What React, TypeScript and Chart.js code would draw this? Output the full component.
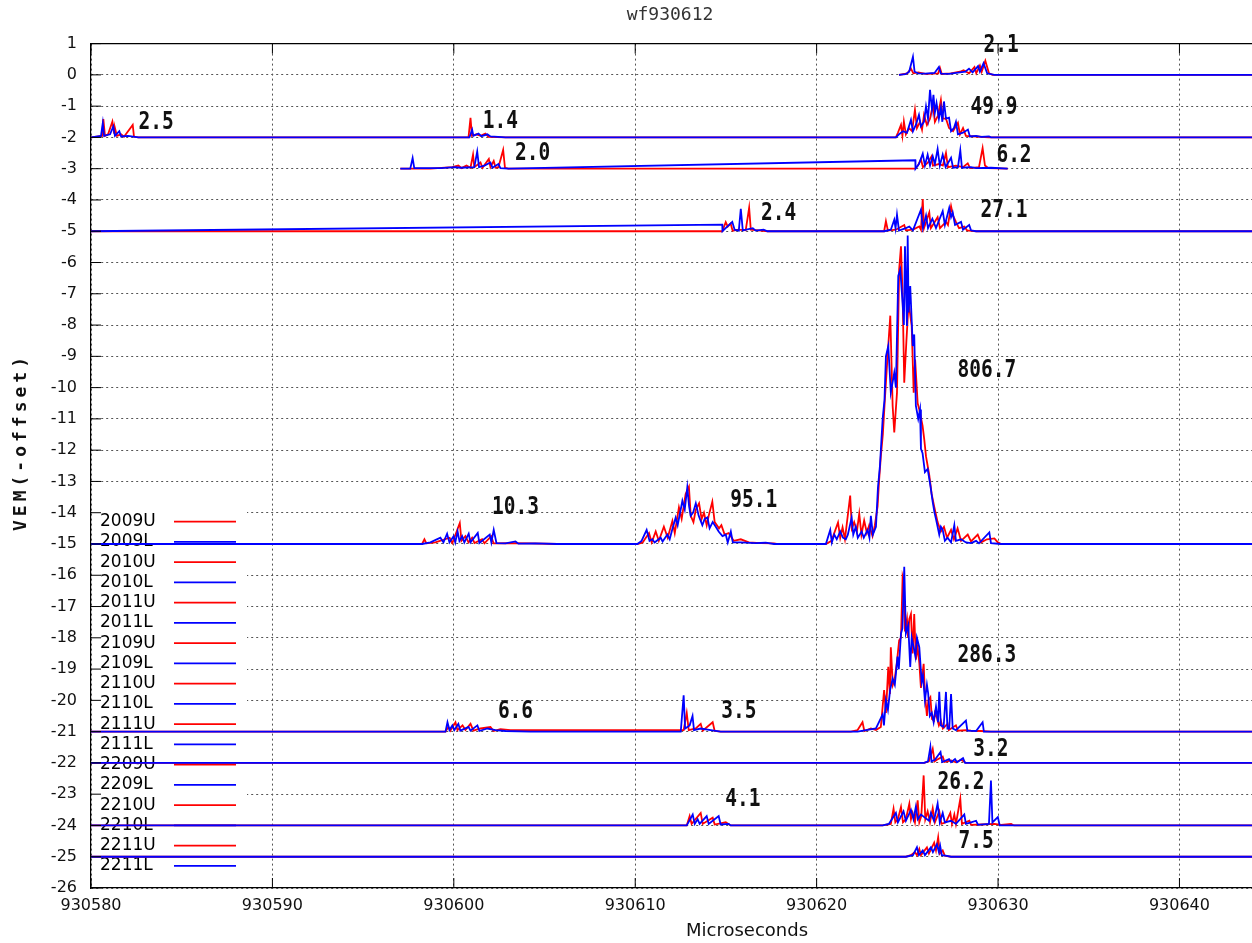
import React, { useEffect, useRef } from 'react';
import { Chart, registerables } from 'chart.js';

Chart.register(...registerables);

// ---------- text ----------
const TITLE = 'wf930612';
const X_TITLE = 'Microseconds';
const Y_TITLE = 'VEM(-offset)';

// ---------- axes ----------
const T0 = 930580; // time origin, microseconds
const X_MIN = 930580;
const X_MAX = 930644;
const X_STEP = 10;
const Y_MIN = -26;
const Y_MAX = 1;
const Y_STEP = 1;

// ---------- channels ----------
const CHANNELS = ['2009U', '2009L', '2010U', '2010L', '2011U', '2011L', '2109U', '2109L', '2110U', '2110L', '2111U', '2111L', '2209U', '2209L', '2210U', '2210L', '2211U', '2211L'];
const OFFSETS = [0, 0, -2, -2, -3, -3, -5, -5, -15, -15, -21, -21, -22, -22, -24, -24, -25, -25];

// ---------- traces: [microseconds after T0, VEM above the channel offset] ----------
const TRACE_2009U = [[44.54,0],[45.0,0.05],[45.2,0.2],[45.33,0.05],[45.6,0.08],[46.0,0.03],[46.7,0.05],[46.8,0.22],[46.9,0.03],[47.4,0.05],[47.9,0.1],[48.1,0.15],[48.4,0.05],[48.7,0.25],[48.8,0.05],[49.0,0.3],[49.1,0.1],[49.3,0.45],[49.5,0.05],[49.7,0],[64,0]];
const TRACE_2009L = [[44.54,0],[44.9,0.02],[45.1,0.1],[45.31,0.58],[45.4,0.1],[45.6,0.05],[46.0,0.04],[46.5,0.06],[46.74,0.25],[46.85,0.04],[47.3,0.03],[47.9,0.08],[48.2,0.1],[48.4,0.2],[48.6,0.08],[48.9,0.28],[49.0,0.1],[49.2,0.37],[49.4,0.05],[49.8,0],[64,0]];
const TRACE_2010U = [[0,0],[0.61,0.05],[0.68,0.59],[0.77,0.05],[0.94,0.1],[1.18,0.51],[1.27,0.15],[1.32,0.3],[1.43,0.05],[1.66,0.1],[1.82,0.02],[2.3,0.4],[2.37,0.02],[2.61,0],[20.81,0],[20.92,0.63],[21.0,0.05],[21.25,0.1],[21.47,0.05],[21.74,0.12],[21.91,0.02],[22.85,0],[44.37,0],[44.48,0.15],[44.65,0.4],[44.73,0.05],[44.81,0.51],[44.92,0.1],[45.09,0.3],[45.26,0.2],[45.42,0.88],[45.53,0.3],[45.7,0.5],[45.81,0.25],[45.92,0.72],[46.08,0.4],[46.25,0.6],[46.41,1.04],[46.52,0.5],[46.69,0.7],[46.85,1.2],[46.96,0.6],[47.13,0.6],[47.3,0.3],[47.52,0.2],[47.79,0.47],[47.9,0.1],[48.07,0.3],[48.23,0.05],[48.79,0.03],[49.5,0],[64,0]];
const TRACE_2010L = [[0,0],[0.55,0.05],[0.65,0.46],[0.72,0.05],[1.05,0.1],[1.23,0.35],[1.32,0.05],[1.56,0.2],[1.66,0.03],[2.04,0.05],[2.43,0.02],[2.61,0],[20.86,0],[21.01,0.25],[21.08,0.05],[21.36,0.12],[21.52,0.04],[21.85,0.1],[22.02,0.03],[22.85,0],[44.37,0],[44.54,0.1],[44.76,0.2],[44.98,0.15],[45.2,0.56],[45.31,0.2],[45.47,0.4],[45.64,0.72],[45.75,0.35],[45.92,0.5],[46.03,0.99],[46.14,0.6],[46.25,1.52],[46.36,0.9],[46.44,1.36],[46.52,0.8],[46.61,1.1],[46.74,0.6],[46.85,0.95],[46.93,0.5],[47.02,1.15],[47.13,0.6],[47.3,0.63],[47.41,0.2],[47.57,0.3],[47.68,0.5],[47.79,0.1],[48.07,0.15],[48.34,0.25],[48.45,0.03],[48.79,0.05],[49.06,0.02],[49.5,0.03],[49.61,0],[64,0]];
const TRACE_2011U = [[17.05,0],[18.71,0],[19.92,0.05],[20.25,0.1],[20.42,0.02],[20.7,0.1],[20.92,0.03],[21.06,0.45],[21.13,0.05],[21.47,0.2],[21.58,0.03],[21.93,0.31],[22.02,0.05],[22.2,0.25],[22.3,0.03],[22.46,0.05],[22.72,0.6],[22.82,0.03],[23.01,0],[45.44,0],[45.58,0.1],[45.75,0.3],[45.86,0.05],[46.14,0.2],[46.34,0.4],[46.41,0.1],[46.74,0.15],[46.96,0.1],[47.13,0.5],[47.24,0.05],[47.68,0.1],[48.07,0.05],[48.33,0.17],[48.46,0.02],[48.95,0.05],[49.15,0.66],[49.28,0.1],[49.45,0.02],[50.53,0]];
const TRACE_2011L = [[17.05,0],[17.6,0],[17.73,0.34],[17.82,0.02],[19.26,0.02],[20.09,0.05],[20.36,0.03],[21.13,0.05],[21.29,0.55],[21.39,0.05],[21.69,0.1],[22.02,0.2],[22.13,0.03],[22.46,0.15],[22.57,0.02],[23.01,0],[45.44,0.27],[45.45,0],[45.64,0.15],[45.85,0.48],[45.97,0.1],[46.12,0.45],[46.25,0.1],[46.4,0.4],[46.52,0.15],[46.67,0.63],[46.79,0.1],[46.95,0.45],[47.11,0.05],[47.41,0.35],[47.52,0.03],[47.79,0.05],[47.92,0.59],[48.01,0.03],[48.51,0.05],[48.79,0.02],[49.61,0.03],[50.53,0]];
const TRACE_2109U = [[0,0],[34.8,0],[34.99,0.29],[35.1,0.15],[35.26,0.25],[35.37,0.02],[35.71,0.05],[36.09,0.03],[36.28,0.75],[36.37,0.05],[36.92,0.02],[37.29,0],[43.72,0],[43.82,0.32],[43.93,0.02],[44.37,0.05],[44.83,0.2],[44.92,0.03],[45.31,0.05],[45.66,0.15],[45.75,0.05],[45.85,1.03],[45.92,0.1],[46.21,0.6],[46.3,0.1],[46.67,0.45],[46.8,0.1],[47.13,0.3],[47.24,0.2],[47.41,0.8],[47.52,0.5],[47.68,0.3],[47.85,0.1],[48.14,0.15],[48.29,0.03],[48.79,0],[64,0]];
const TRACE_2109L = [[0,0],[34.8,0.21],[34.81,0],[35.35,0.3],[35.48,0.05],[35.71,0.02],[35.82,0.72],[35.93,0.03],[36.48,0.1],[36.64,0.02],[37.08,0.05],[37.29,0],[43.72,0],[44.09,0.05],[44.28,0.37],[44.35,0.1],[44.43,0.53],[44.54,0.02],[44.92,0.1],[45.11,0.15],[45.31,0.03],[45.75,0.69],[45.86,0.1],[46.03,0.5],[46.14,0.1],[46.38,0.4],[46.58,0.1],[46.95,0.64],[47.07,0.2],[47.31,0.75],[47.41,0.45],[47.5,0.6],[47.63,0.2],[47.96,0.3],[48.07,0.05],[48.41,0.2],[48.51,0.03],[48.79,0],[64,0]];
const TRACE_2110U = [[0,0],[18.25,0],[18.38,0.15],[18.49,0.02],[18.98,0.05],[19.77,0.2],[19.92,0.03],[20.33,0.67],[20.42,0.1],[20.64,0.25],[20.81,0.05],[21.01,0.2],[21.14,0.03],[21.56,0.15],[21.69,0.02],[22.06,0.25],[22.19,0.02],[23.12,0.03],[24.23,0.02],[25.7,0],[30.12,0],[30.41,0.05],[30.76,0.35],[30.91,0.05],[31.13,0.4],[31.3,0.1],[31.58,0.55],[31.79,0.2],[32.05,0.74],[32.18,0.35],[32.41,1.17],[32.56,0.8],[32.78,1.6],[32.96,1.83],[33.06,0.9],[33.21,0.7],[33.34,1.1],[33.52,1.3],[33.66,0.8],[33.79,1.0],[33.94,0.6],[34.05,0.9],[34.25,1.35],[34.38,0.7],[34.62,0.5],[34.75,0.6],[34.93,0.3],[35.15,0.35],[35.43,0.1],[35.82,0.15],[36.26,0.05],[36.92,0.03],[37.65,0.02],[37.8,0],[40.51,0],[40.82,0.1],[41.18,0.69],[41.3,0.2],[41.43,0.53],[41.56,0.15],[41.85,1.55],[41.94,0.5],[42.07,0.7],[42.22,0.4],[42.35,0.97],[42.47,0.3],[42.62,0.75],[42.77,0.35],[42.9,0.6],[43.08,0.25],[43.21,0.6],[43.36,1.2],[43.44,2.0],[43.54,2.8],[43.65,3.5],[43.76,4.6],[43.91,6.0],[44.06,7.3],[44.19,4.42],[44.28,3.57],[44.43,4.84],[44.55,8.78],[44.65,9.52],[44.74,7.92],[44.83,5.16],[44.95,6.5],[45.07,7.72],[45.24,6.97],[45.35,4.84],[45.43,5.9],[45.57,4.5],[45.66,4.3],[45.84,3.78],[45.93,3.36],[46.03,2.8],[46.21,2.2],[46.34,1.6],[46.48,1.2],[46.67,0.7],[46.85,0.4],[47.02,0.55],[47.19,0.2],[47.41,0.45],[47.57,0.15],[47.77,0.5],[47.96,0.1],[48.33,0.3],[48.51,0.08],[48.88,0.3],[49.06,0.05],[49.39,0.15],[49.8,0.18],[49.99,0.05],[50.17,0],[64,0]];
const TRACE_2110L = [[0,0],[18.25,0],[18.71,0.05],[19.26,0.2],[19.43,0.05],[19.63,0.33],[19.76,0.05],[19.99,0.25],[20.08,0.05],[20.21,0.4],[20.31,0.1],[20.46,0.25],[20.58,0.05],[20.82,0.33],[20.92,0.05],[21.32,0.35],[21.41,0.03],[21.98,0.3],[22.07,0.05],[22.2,0.45],[22.35,0.03],[22.85,0.02],[23.4,0.08],[23.56,0.01],[24.5,0.02],[25.7,0],[30.12,0],[30.35,0.1],[30.63,0.45],[30.79,0.1],[30.94,0.15],[31.07,0.05],[31.4,0.2],[31.51,0.08],[31.77,0.3],[31.9,0.15],[32.06,0.5],[32.23,0.84],[32.34,0.6],[32.6,1.38],[32.73,1.1],[32.87,1.81],[32.97,1.2],[33.06,0.9],[33.19,1.0],[33.34,1.3],[33.5,0.9],[33.7,0.6],[33.83,0.8],[33.98,0.85],[34.1,0.5],[34.27,0.7],[34.44,0.55],[34.6,0.4],[34.81,0.25],[34.99,0.3],[35.1,0.05],[35.27,0.4],[35.38,0.05],[35.82,0.05],[36.64,0.03],[37.19,0.04],[37.65,0],[40.51,0],[40.75,0.45],[40.84,0.05],[40.97,0.3],[41.11,0.15],[41.3,0.4],[41.45,0.2],[41.61,0.15],[41.72,0.3],[41.93,0.84],[42.02,0.3],[42.16,0.55],[42.27,0.2],[42.48,0.4],[42.6,0.2],[42.81,0.45],[42.91,0.2],[42.99,0.9],[43.1,0.3],[43.27,0.55],[43.38,1.8],[43.49,2.5],[43.64,4.0],[43.74,4.6],[43.82,6.0],[43.95,6.33],[44.09,4.84],[44.28,5.48],[44.37,5.0],[44.5,8.57],[44.61,8.78],[44.74,7.7],[44.81,7.0],[44.87,9.52],[44.98,6.97],[45.02,9.86],[45.07,7.4],[45.16,8.25],[45.3,6.33],[45.38,6.7],[45.47,4.42],[45.6,4.0],[45.7,4.3],[45.75,3.04],[45.84,2.9],[45.97,2.3],[46.12,2.4],[46.27,1.87],[46.4,1.34],[46.5,1.0],[46.58,0.8],[46.76,0.3],[46.85,0.55],[46.95,0.45],[47.07,0.1],[47.22,0.2],[47.41,0.05],[47.59,0.6],[47.68,0.1],[47.96,0.15],[48.23,0.05],[48.51,0.03],[48.79,0.1],[48.95,0.02],[49.52,0.37],[49.61,0.03],[50.17,0],[64,0]];
const TRACE_2111U = [[0,0],[19.54,0],[19.7,0.15],[19.81,0.03],[20.09,0.3],[20.2,0.05],[20.48,0.2],[20.64,0.05],[20.92,0.25],[21.08,0.03],[21.47,0.1],[22.02,0.15],[22.19,0.02],[22.57,0.08],[23.12,0.05],[24.23,0.05],[32.67,0.05],[32.84,0.6],[32.95,0.05],[33.34,0.1],[33.61,0.25],[33.72,0.03],[34.27,0.3],[34.38,0.02],[34.71,0],[41.89,0],[42.26,0.05],[42.53,0.3],[42.63,0.02],[42.99,0.1],[43.27,0.05],[43.54,0.15],[43.72,1.33],[43.82,0.6],[43.95,2.07],[44.04,1.2],[44.09,2.7],[44.2,1.5],[44.31,1.7],[44.42,2.2],[44.55,2.92],[44.65,3.0],[44.74,4.95],[44.8,4.8],[44.87,3.2],[44.98,3.6],[45.04,3.0],[45.11,3.6],[45.2,3.76],[45.29,2.5],[45.38,3.76],[45.47,2.3],[45.57,2.7],[45.66,2.2],[45.75,1.4],[45.9,2.17],[45.97,1.2],[46.08,0.5],[46.16,1.0],[46.27,1.1],[46.36,0.4],[46.47,0.35],[46.52,0.6],[46.63,0.45],[46.74,0.2],[46.85,0.35],[46.96,0.1],[47.22,0.25],[47.29,0.05],[47.68,0.2],[47.79,0.03],[48.23,0.05],[48.51,0.03],[49.06,0.02],[49.61,0],[64,0]];
const TRACE_2111L = [[0,0],[19.54,0],[19.65,0.3],[19.76,0.05],[19.92,0.2],[20.03,0.05],[20.25,0.25],[20.36,0.03],[20.81,0.15],[20.92,0.03],[21.3,0.2],[21.41,0.02],[21.85,0.1],[22.3,0.05],[22.85,0.02],[24.23,0],[32.51,0],[32.67,1.16],[32.75,0.1],[33.0,0.2],[33.16,0.5],[33.24,0.05],[33.61,0.1],[34.16,0.05],[34.71,0],[42.26,0],[42.72,0.05],[43.27,0.1],[43.64,0.55],[43.71,0.2],[43.82,1.0],[43.93,0.7],[44.05,1.33],[44.19,1.7],[44.31,1.5],[44.46,2.4],[44.53,2.0],[44.65,3.14],[44.73,3.3],[44.83,5.27],[44.92,3.14],[45.05,3.4],[45.16,2.07],[45.24,3.0],[45.35,2.7],[45.45,2.4],[45.53,3.0],[45.66,2.7],[45.79,1.6],[45.86,1.8],[45.97,1.0],[46.08,1.5],[46.15,1.22],[46.24,0.5],[46.35,0.6],[46.45,0.3],[46.58,0.8],[46.69,0.3],[46.76,1.27],[46.85,0.2],[47.0,0.15],[47.13,1.27],[47.21,0.1],[47.31,0.1],[47.41,1.2],[47.5,0.1],[47.68,0.05],[48.23,0.35],[48.31,0.03],[48.79,0.02],[49.15,0.3],[49.22,0],[64,0]];
const TRACE_2209U = [[0,0],[45.93,0],[46.19,0.05],[46.4,0.45],[46.5,0.05],[46.63,0.1],[46.95,0.2],[47.05,0.03],[47.41,0.08],[47.68,0.02],[47.96,0.1],[48.23,0],[64,0]];
const TRACE_2209L = [[0,0],[45.93,0],[46.14,0.05],[46.27,0.51],[46.33,0.05],[46.52,0.1],[46.83,0.35],[46.92,0.03],[47.3,0.12],[47.41,0.02],[47.63,0.12],[47.74,0.02],[48.07,0.15],[48.18,0],[64,0]];
const TRACE_2210U = [[0,0],[32.84,0],[33.0,0.3],[33.11,0.05],[33.61,0.4],[33.72,0.05],[34.27,0.25],[34.38,0.03],[34.99,0.1],[35.26,0],[43.64,0],[44.09,0.05],[44.24,0.53],[44.34,0.1],[44.48,0.2],[44.65,0.59],[44.76,0.1],[44.92,0.2],[45.11,0.69],[45.2,0.2],[45.29,0.4],[45.42,0.1],[45.57,0.8],[45.66,0.1],[45.77,0.3],[45.9,1.6],[45.99,0.2],[46.12,0.45],[46.25,0.1],[46.4,0.55],[46.52,0.1],[46.76,0.45],[46.88,0.05],[47.13,0.1],[47.37,0.4],[47.46,0.05],[47.59,0.35],[47.68,0.05],[47.92,0.85],[48.01,0.05],[48.42,0.15],[48.51,0.02],[49.06,0.03],[49.8,0.05],[50.17,0.02],[50.72,0.05],[50.88,0],[64,0]];
const TRACE_2210L = [[0,0],[32.84,0],[33.17,0.35],[33.28,0.05],[33.44,0.2],[33.55,0.05],[33.94,0.3],[34.05,0.05],[34.6,0.3],[34.71,0.03],[35.15,0.05],[35.26,0],[43.64,0],[43.98,0.05],[44.37,0.4],[44.48,0.1],[44.79,0.45],[44.92,0.15],[45.2,0.5],[45.34,0.2],[45.47,0.6],[45.58,0.2],[45.75,0.35],[45.97,0.25],[46.19,0.15],[46.3,0.4],[46.47,0.15],[46.67,0.7],[46.79,0.1],[46.95,0.4],[47.07,0.1],[47.41,0.15],[47.68,0.05],[48.14,0.35],[48.23,0.05],[48.51,0.1],[48.79,0.15],[48.9,0.02],[49.5,0.05],[49.61,1.44],[49.69,0.1],[49.99,0.27],[50.09,0],[64,0]];
const TRACE_2211U = [[0,0],[44.92,0],[45.2,0.05],[45.42,0.15],[45.53,0.05],[45.66,0.25],[45.75,0.05],[46.08,0.3],[46.19,0.1],[46.48,0.45],[46.58,0.2],[46.7,0.62],[46.79,0.1],[46.95,0.2],[47.07,0.03],[47.41,0],[64,0]];
const TRACE_2211L = [[0,0],[44.92,0],[45.31,0.05],[45.53,0.3],[45.64,0.05],[45.85,0.2],[45.97,0.05],[46.3,0.3],[46.41,0.15],[46.63,0.4],[46.74,0.15],[46.81,0.35],[46.9,0.05],[47.19,0.03],[47.41,0],[64,0]];

const TRACES = [TRACE_2009U, TRACE_2009L, TRACE_2010U, TRACE_2010L, TRACE_2011U, TRACE_2011L, TRACE_2109U, TRACE_2109L, TRACE_2110U, TRACE_2110L, TRACE_2111U, TRACE_2111L, TRACE_2209U, TRACE_2209L, TRACE_2210U, TRACE_2210L, TRACE_2211U, TRACE_2211L];

// ---------- integrated-signal annotations ----------
const SIGNAL_TEXT = ['2.1', '2.5', '1.4', '49.9', '2.0', '6.2', '2.4', '27.1', '10.3', '95.1', '806.7', '6.6', '3.5', '286.3', '3.2', '4.1', '26.2', '7.5'];
const SIGNAL_T = [50.17, 3.59, 22.57, 49.78, 24.34, 50.88, 37.91, 50.33, 23.4, 36.53, 49.39, 23.4, 35.71, 49.39, 49.61, 35.93, 47.96, 48.79];
const SIGNAL_Y = [0.93, -1.52, -1.49, -1.03, -2.51, -2.57, -4.42, -4.33, -13.82, -13.6, -9.44, -20.37, -20.37, -18.55, -21.58, -23.18, -22.64, -24.52];

const RED = '#ff0000';
const BLUE = '#0000ff';

const decorPlugin = {
  id: 'decor',
  beforeDatasetsDraw(chart: any) {
    const { ctx, chartArea: a } = chart;
    ctx.save();
    // opaque key box
    ctx.fillStyle = '#ffffff';
    ctx.fillRect(a.left + 1, a.top + 465, 155, 370);
    ctx.font = '17px "DejaVu Sans"';
    ctx.textBaseline = 'middle';
    ctx.textAlign = 'left';
    chart.data.datasets.forEach((ds: any, i: number) => {
      const y = a.top + 478 + i * 20.25;
      ctx.fillStyle = '#000';
      ctx.fillText(ds.label, a.left + 9, y);
      ctx.strokeStyle = ds.borderColor;
      ctx.lineWidth = 1.8;
      ctx.beginPath();
      ctx.moveTo(a.left + 83, y);
      ctx.lineTo(a.left + 145, y);
      ctx.stroke();
    });
    ctx.restore();
  },
  afterDatasetsDraw(chart: any) {
    const { ctx, chartArea: a, scales } = chart;
    const xs = scales.x;
    const ys = scales.y;
    ctx.save();
    ctx.strokeStyle = '#000';
    ctx.lineWidth = 1.2;
    ctx.beginPath();
    ctx.moveTo(a.left, a.top);
    ctx.lineTo(a.right, a.top);
    ctx.stroke();
    ctx.lineWidth = 1;
    ys.ticks.forEach((t: any) => {
      const y = ys.getPixelForValue(t.value);
      ctx.beginPath();
      ctx.moveTo(a.left, y);
      ctx.lineTo(a.left + 10, y);
      ctx.stroke();
    });
    xs.ticks.forEach((t: any) => {
      const x = xs.getPixelForValue(t.value);
      ctx.beginPath();
      ctx.moveTo(x, a.bottom);
      ctx.lineTo(x, a.bottom - 10);
      ctx.moveTo(x, a.top);
      ctx.lineTo(x, a.top + 10);
      ctx.stroke();
    });
    ctx.fillStyle = '#111';
    ctx.font = 'bold 25px "DejaVu Sans Mono"';
    ctx.textAlign = 'center';
    ctx.textBaseline = 'middle';
    SIGNAL_TEXT.forEach((txt, i) => {
      const x = xs.getPixelForValue(T0 + SIGNAL_T[i]);
      const y = ys.getPixelForValue(SIGNAL_Y[i]);
      ctx.save();
      ctx.translate(x, y);
      ctx.scale(0.78, 1);
      ctx.fillText(txt, 0, 0);
      ctx.restore();
    });
    ctx.restore();
  },
  afterDraw(chart: any) {
    const { ctx, chartArea: a } = chart;
    ctx.save();
    ctx.fillStyle = '#333';
    ctx.textAlign = 'center';
    ctx.textBaseline = 'middle';
    ctx.font = '18px "DejaVu Sans Mono"';
    ctx.fillText(TITLE, 670, 15);
    ctx.fillStyle = '#111';
    ctx.font = '18px "DejaVu Sans"';
    ctx.fillText(X_TITLE, 747, a.bottom + 43);
    ctx.translate(21, 442);
    ctx.rotate(-Math.PI / 2);
    ctx.font = 'bold 18px "DejaVu Sans Mono"';
    (ctx as any).letterSpacing = '4px';
    ctx.fillText(Y_TITLE, 0, 0);
    ctx.restore();
  },
};

export default function App() {
  const ref = useRef<HTMLCanvasElement | null>(null);
  useEffect(() => {
    if (!ref.current) return;
    const datasets = CHANNELS.map((name, i) => ({
      label: name,
      data: TRACES[i].map(([dt, v]) => ({ x: T0 + dt, y: OFFSETS[i] + v })),
      borderColor: name.endsWith('U') ? RED : BLUE,
      backgroundColor: name.endsWith('U') ? RED : BLUE,
      borderWidth: 1.8,
      pointRadius: 0,
      tension: 0,
      fill: false,
      order: CHANNELS.length - i, // later channels drawn on top, as in the original plot
    }));
    const chart = new Chart(ref.current, {
      type: 'line',
      data: { datasets },
      options: {
        responsive: false,
        animation: false,
        devicePixelRatio: 1,
        layout: { padding: { top: 43.6, left: 0, right: 0, bottom: 0 } },
        plugins: {
          legend: { display: false },
          title: { display: false },
          tooltip: { enabled: false },
        },
        scales: {
          x: {
            type: 'linear',
            min: X_MIN,
            max: X_MAX,
            afterFit: (s: any) => { s.height = 55; s.paddingLeft = 0; s.paddingRight = 0; },
            ticks: {
              stepSize: X_STEP,
              includeBounds: false,
              autoSkip: false,
              maxRotation: 0,
              padding: 8,
              color: '#111',
              font: { family: 'DejaVu Sans', size: 16 },
              callback: (v: any) => String(v),
            },
            grid: { color: '#555', lineWidth: 1, drawTicks: false },
            border: { color: '#000', width: 1.2, dash: [2, 3] },
          },
          y: {
            type: 'linear',
            min: Y_MIN,
            max: Y_MAX,
            afterFit: (s: any) => { s.width = 91; s.paddingTop = 0; s.paddingBottom = 0; },
            ticks: {
              stepSize: Y_STEP,
              autoSkip: false,
              padding: 14,
              color: '#111',
              font: { family: 'DejaVu Sans', size: 16 },
              callback: (v: any) => String(v),
            },
            grid: { color: '#555', lineWidth: 1, drawTicks: false },
            border: { color: '#000', width: 1.2, dash: [2, 3] },
          },
        },
      },
      plugins: [decorPlugin],
    });
    return () => chart.destroy();
  }, []);
  return (
    <div style={{ position: 'absolute', left: 0, top: 0, width: 1252, height: 943, background: '#fff' }}>
      <canvas ref={ref} width={1252} height={943} style={{ display: 'block' }} />
    </div>
  );
}
